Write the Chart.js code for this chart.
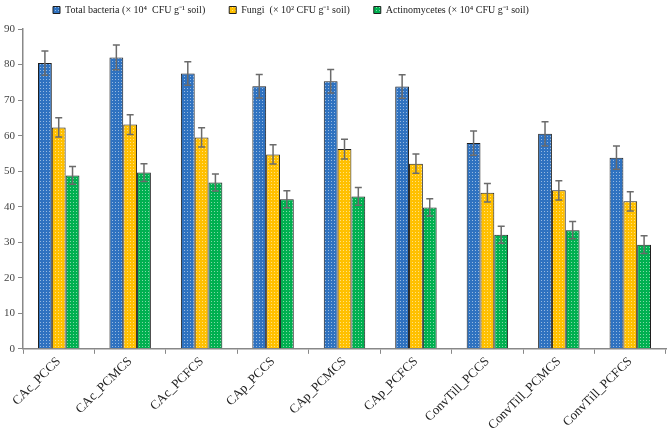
<!DOCTYPE html>
<html>
<head>
<meta charset="utf-8">
<script src="https://cdn.jsdelivr.net/npm/chart.js@4.4.0/dist/chart.umd.min.js"></script>
<style>
  body { margin: 0; background: #fff; }
  .chart-container { width: 669px; height: 433px; }
</style>
</head>
<body>
<div class="chart-container"><canvas id="chart"></canvas></div>
<script>
// categories and values
const categories = ['CAc_PCCS', 'CAc_PCMCS', 'CAc_PCFCS', 'CAp_PCCS', 'CAp_PCMCS', 'CAp_PCFCS',
    'ConvTill_PCCS', 'ConvTill_PCMCS', 'ConvTill_PCFCS'];
const bacteria = [80.4, 82.0, 77.5, 73.9, 75.3, 73.8, 57.9, 60.5, 53.8];
const fungi = [62.3, 63.1, 59.5, 54.7, 56.2, 52.1, 43.9, 44.6, 41.5];
const actino = [48.8, 49.6, 46.8, 42.1, 42.9, 39.8, 32.1, 33.4, 29.3];
const bacteriaErr = [3.4, 3.5, 3.3, 3.3, 3.3, 3.3, 3.4, 3.4, 3.3];
const fungiErr = [2.7, 2.8, 2.7, 2.7, 2.8, 2.7, 2.6, 2.7, 2.7];
const actinoErr = [2.5, 2.5, 2.4, 2.4, 2.5, 2.4, 2.4, 2.4, 2.5];
const yTicks = [0, 10, 20, 30, 40, 50, 60, 70, 80, 90];

const serif = "'Liberation Serif', 'Times New Roman', serif";

// dotted fill like the original
function dotted(color) {
    const c = document.createElement('canvas');
    c.width = 3; c.height = 3;
    const ctx = c.getContext('2d');
    ctx.fillStyle = color;
    ctx.fillRect(0, 0, 3, 3);
    ctx.fillStyle = 'rgba(255,255,255,0.5)';
    ctx.fillRect(1, 1, 1, 1);
    return ctx.createPattern(c, 'repeat');
}

// error bars drawn from the err arrays through the y scale
const errorBars = {
    id: 'errorBars',
    afterDatasetsDraw(chart) {
        const ctx = chart.ctx;
        const y = chart.scales.y;
        ctx.save();
        ctx.strokeStyle = '#6b6b6b';
        ctx.lineWidth = 1.5;
        chart.data.datasets.forEach((ds, i) => {
            const meta = chart.getDatasetMeta(i);
            meta.data.forEach((bar, j) => {
                const v = ds.data[j], e = ds.err[j];
                const top = y.getPixelForValue(v + e);
                const bot = y.getPixelForValue(v - e);
                ctx.beginPath();
                ctx.moveTo(bar.x, top); ctx.lineTo(bar.x, bot);
                ctx.moveTo(bar.x - 3.5, top); ctx.lineTo(bar.x + 3.5, top);
                ctx.moveTo(bar.x - 3.5, bot); ctx.lineTo(bar.x + 3.5, bot);
                ctx.stroke();
            });
        });
        ctx.restore();
    }
};

// legend: fixed height and moved to where it sits in the original
const legendTweak = {
    id: 'legendTweak',
    beforeLayout(chart) {
        const lg = chart.legend;
        if (lg && !lg._patched) {
            const fit = lg.fit.bind(lg);
            lg.fit = function () { fit(); this.height = 29; };
            lg._patched = true;
        }
    },
    afterLayout(chart) {
        const lg = chart.legend;
        lg.left = 29;
        lg.top = -19;
        lg.bottom = 28;
        lg.height = 47;
    }
};

const data = {
    labels: categories,
    datasets: [
        { label: 'Total bacteria (× 10⁴  CFU g⁻¹ soil)', data: bacteria, err: bacteriaErr,
          backgroundColor: dotted('#2f72c0'), borderColor: '#1f1f1f', borderWidth: 1 },
        { label: 'Fungi  (× 10² CFU g⁻¹ soil)', data: fungi, err: fungiErr,
          backgroundColor: dotted('#ffc000'), borderColor: '#1f1f1f', borderWidth: 1 },
        { label: 'Actinomycetes (× 10⁴ CFU g⁻¹ soil)', data: actino, err: actinoErr,
          backgroundColor: dotted('#00b050'), borderColor: '#1f1f1f', borderWidth: 1 }
    ]
};

const config = {
    type: 'bar',
    data: data,
    options: {
        responsive: true,
        maintainAspectRatio: false,
        animation: false,
        categoryPercentage: 0.58,
        barPercentage: 1.0,
        layout: { padding: { left: 1, right: 3, top: 0, bottom: 0 } },
        plugins: {
            legend: {
                position: 'top',
                align: 'start',
                labels: {
                    boxWidth: 7,
                    boxHeight: 7,
                    padding: 24,
                    color: '#222',
                    font: { family: serif, size: 10 }
                }
            },
            tooltip: { enabled: false }
        },
        scales: {
            x: {
                grid: { display: true, drawOnChartArea: false, drawTicks: true, tickLength: 5, color: '#888' },
                border: { color: '#888', width: 1.5 },
                ticks: {
                    minRotation: 45, maxRotation: 45,
                    color: '#222',
                    padding: 0,
                    font: { family: serif, size: 13 }
                }
            },
            y: {
                min: 0, max: 90,
                afterBuildTicks(axis) { axis.ticks = yTicks.map(v => ({ value: v })); },
                grid: { display: true, drawOnChartArea: false, drawTicks: true, tickLength: 5, color: '#888' },
                border: { color: '#888', width: 1.5 },
                ticks: {
                    color: '#444',
                    padding: 3,
                    font: { family: serif, size: 11 }
                }
            }
        }
    },
    plugins: [errorBars, legendTweak]
};

new Chart(document.getElementById('chart'), config);
</script>
</body>
</html>
